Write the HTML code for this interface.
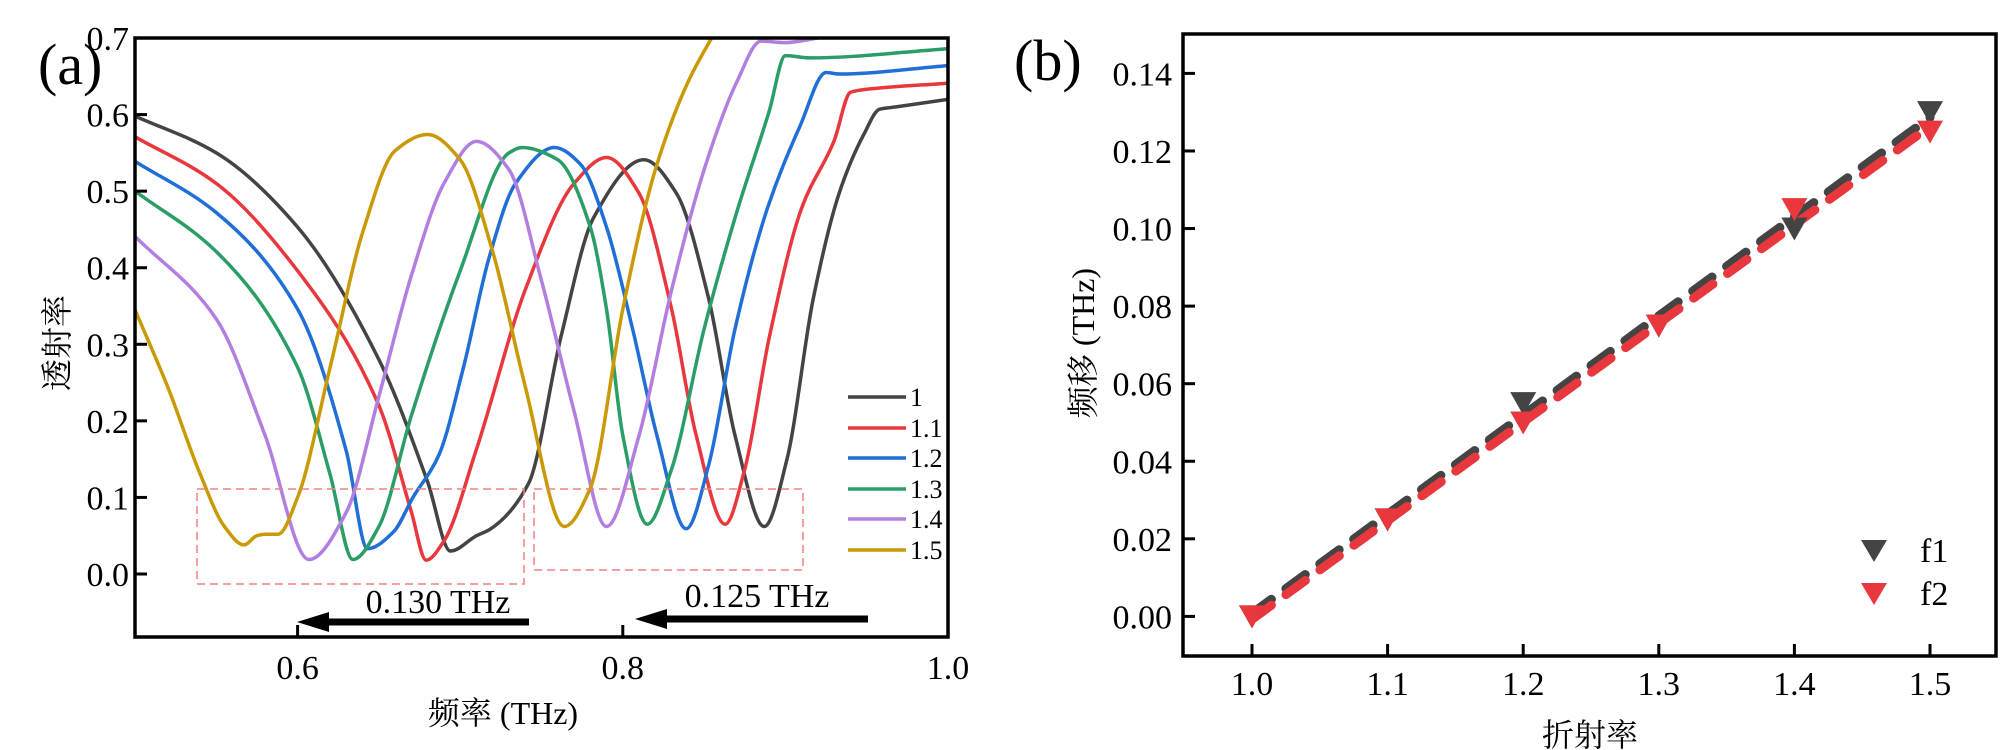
<!DOCTYPE html>
<html><head><meta charset="utf-8">
<style>
html,body{margin:0;padding:0;background:#fff;}
svg{display:block;font-family:"Liberation Serif","Noto Serif CJK SC","Noto Sans CJK SC",serif;}
</style></head>
<body>
<svg id="fig" width="2000" height="750" viewBox="0 0 2000 750" xmlns="http://www.w3.org/2000/svg">
<g id="pa"></g>
<g id="pb"></g>
</svg>
<script>
// ---- Panel (a) data ----
const seriesNames = ["1","1.1","1.2","1.3","1.4","1.5"];
const seriesColors = ["#444444","#e8383d","#1f6fd6","#2b9e67","#b27fe0","#c99a06"];
const freq1 = [0.5,0.55,0.6,0.65,0.68,0.694,0.71,0.718,0.742,0.762,0.782,0.813,0.833,0.853,0.869,0.887,0.901,0.917,0.933,0.948,0.958,0.968,1.0];
const trans1 = [0.598,0.55,0.453,0.28,0.12,0.03,0.05,0.058,0.118,0.31,0.465,0.541,0.497,0.358,0.181,0.062,0.15,0.358,0.497,0.573,0.607,0.61,0.62];
const freq2 = [0.5,0.55,0.6,0.65,0.67,0.679,0.69,0.71,0.74,0.77,0.79,0.81,0.83,0.845,0.863,0.875,0.89,0.91,0.93,0.94,0.95,1.0];
const trans2 = [0.571,0.51,0.396,0.22,0.081,0.018,0.043,0.163,0.371,0.51,0.544,0.497,0.346,0.182,0.065,0.137,0.308,0.478,0.566,0.629,0.633,0.641];
const freq3 = [0.5,0.55,0.6,0.63,0.643,0.659,0.671,0.687,0.702,0.718,0.734,0.758,0.774,0.79,0.806,0.821,0.839,0.853,0.869,0.889,0.909,0.925,0.933,1.0];
const trans3 = [0.539,0.472,0.346,0.16,0.033,0.055,0.1,0.156,0.27,0.415,0.51,0.557,0.535,0.453,0.32,0.181,0.059,0.144,0.32,0.478,0.585,0.655,0.653,0.664];
const freq4 = [0.5,0.55,0.6,0.62,0.634,0.65,0.67,0.7,0.73,0.738,0.76,0.78,0.79,0.8,0.815,0.83,0.85,0.87,0.89,0.9,0.915,1.0];
const trans4 = [0.5,0.421,0.27,0.13,0.019,0.062,0.207,0.396,0.55,0.557,0.541,0.453,0.346,0.181,0.065,0.137,0.32,0.472,0.604,0.677,0.674,0.686];
const freq5 = [0.5,0.55,0.58,0.607,0.63,0.65,0.67,0.69,0.71,0.73,0.75,0.77,0.79,0.81,0.83,0.85,0.87,0.885,0.9,0.92];
const trans5 = [0.441,0.333,0.181,0.019,0.081,0.232,0.39,0.51,0.565,0.528,0.383,0.213,0.062,0.181,0.371,0.528,0.642,0.696,0.694,0.7];
const freq6 = [0.5,0.52,0.54,0.555,0.567,0.575,0.58,0.588,0.6,0.62,0.64,0.66,0.68,0.7,0.72,0.74,0.764,0.78,0.8,0.82,0.84,0.86];
const trans6 = [0.345,0.245,0.131,0.062,0.038,0.05,0.052,0.052,0.1,0.27,0.446,0.553,0.574,0.541,0.421,0.245,0.062,0.112,0.346,0.528,0.642,0.72];
const xTicksA = [0.6,0.8,1.0];
const xTickLabelsA = ["0.6","0.8","1.0"];
const yTicksA = [0,0.1,0.2,0.3,0.4,0.5,0.6,0.7];
const yTickLabelsA = ["0.0","0.1","0.2","0.3","0.4","0.5","0.6","0.7"];

// ---- Panel (b) data ----
const indexN = [1.0,1.1,1.2,1.3,1.4,1.5];
const shiftF1 = [0,0.025,0.055,0.075,0.10,0.13];
const shiftF2 = [0,0.025,0.05,0.075,0.105,0.125];
const xTicksB = [1.0,1.1,1.2,1.3,1.4,1.5];
const xTickLabelsB = ["1.0","1.1","1.2","1.3","1.4","1.5"];
const yTicksB = [0,0.02,0.04,0.06,0.08,0.10,0.12,0.14];
const yTickLabelsB = ["0.00","0.02","0.04","0.06","0.08","0.10","0.12","0.14"];

const NS="http://www.w3.org/2000/svg";
function mk(parent,tag,attrs,text){const e=document.createElementNS(NS,tag);for(const k in attrs)e.setAttribute(k,attrs[k]);if(text!==undefined)e.textContent=text;parent.appendChild(e);return e;}

// ===== Panel A =====
const pa=document.getElementById('pa');
const A={x0:135,x1:948,y0:38,y1:637};
const ax=v=>A.x0+(v-0.5)/(0.5)*(A.x1-A.x0);
const ay=v=>574-(v)*(574-38)/0.7;
const defs=mk(document.getElementById('fig'),'defs',{});
const cp=mk(defs,'clipPath',{id:'clipA'});
mk(cp,'rect',{x:A.x0,y:A.y0,width:A.x1-A.x0,height:A.y1-A.y0});

// monotone cubic (Fritsch-Carlson) path
function smooth(pts){
  const n=pts.length;const dx=[],dy=[],m=[];
  for(let i=0;i<n-1;i++){dx.push(pts[i+1][0]-pts[i][0]);dy.push(pts[i+1][1]-pts[i][1]);m.push(dy[i]/dx[i]);}
  const t=[m[0]];
  for(let i=1;i<n-1;i++){
    if(m[i-1]*m[i]<=0)t.push(0);
    else{const w1=2*dx[i]+dx[i-1],w2=dx[i]+2*dx[i-1];t.push((w1+w2)/(w1/m[i-1]+w2/m[i]));}
  }
  t.push(m[n-2]);
  let d="M"+pts[0][0].toFixed(1)+","+pts[0][1].toFixed(1);
  for(let i=0;i<n-1;i++){
    const h=dx[i]/3;
    d+=" C"+(pts[i][0]+h).toFixed(1)+","+(pts[i][1]+t[i]*h).toFixed(1)+" "+(pts[i+1][0]-h).toFixed(1)+","+(pts[i+1][1]-t[i+1]*h).toFixed(1)+" "+pts[i+1][0].toFixed(1)+","+pts[i+1][1].toFixed(1);
  }
  return d;
}
const fs=[freq1,freq2,freq3,freq4,freq5,freq6];
const ts=[trans1,trans2,trans3,trans4,trans5,trans6];
const cg=mk(pa,'g',{'clip-path':'url(#clipA)'});


for(let s=0;s<6;s++){
  const pts=fs[s].map((f,i)=>[ax(f),ay(ts[s][i])]);
  const p=mk(cg,'path',{d:smooth(pts),fill:'none',stroke:seriesColors[s],'stroke-width':3.5,'stroke-linejoin':'round'});
  
  
}
const b1=mk(pa,'rect',{x:197,y:489,width:327,height:95,fill:'none',stroke:'#f08080','stroke-width':1.5,'stroke-dasharray':'8,5'});


const b2=mk(pa,'rect',{x:534,y:489,width:269,height:81,fill:'none',stroke:'#f08080','stroke-width':1.5,'stroke-dasharray':'8,5'});


function arrow(x1,x2,y,name){
  const g=mk(pa,'g',{});
  
  
  mk(g,'line',{x1:x1,y1:y,x2:x2+25,y2:y,stroke:'#000','stroke-width':7});
  mk(g,'polygon',{points:`${x2},${y} ${x2+32},${y-10} ${x2+32},${y+10}`,fill:'#000'});
}
arrow(529,297,622,'shift-arrow-left');
arrow(868,635,619,'shift-arrow-right');
const t1=mk(pa,'text',{x:438,y:613,'font-size':34,'text-anchor':'middle'},'0.130 THz');


const t2=mk(pa,'text',{x:757,y:607,'font-size':34,'text-anchor':'middle'},'0.125 THz');


const fa=mk(pa,'rect',{x:A.x0,y:A.y0,width:A.x1-A.x0,height:A.y1-A.y0,fill:'none',stroke:'#000','stroke-width':3.5});


xTicksA.forEach((v,i)=>{
  const l=mk(pa,'line',{x1:ax(v),y1:A.y1,x2:ax(v),y2:A.y1-12,stroke:'#000','stroke-width':3});
  
  
  const t=mk(pa,'text',{x:ax(v),y:679,'font-size':34,'text-anchor':'middle'},xTickLabelsA[i]);
  
  
});
yTicksA.forEach((v,i)=>{
  const l=mk(pa,'line',{x1:A.x0,y1:ay(v),x2:A.x0+12,y2:ay(v),stroke:'#000','stroke-width':3});
  
  
  const t=mk(pa,'text',{x:129,y:ay(v)+12,'font-size':34,'text-anchor':'end'},yTickLabelsA[i]);
  
  
});
const xa=mk(pa,'text',{x:503,y:724,'font-size':32,'text-anchor':'middle'},'频率 (THz)');


const ya=mk(pa,'text',{x:0,y:0,'font-size':32,'text-anchor':'middle',transform:'translate(68,343) rotate(-90)'},'透射率');


const la=mk(pa,'text',{x:38,y:84,'font-size':58},'(a)');


const lgY=[397,428,458,489,519,550];
for(let s=0;s<6;s++){
  const g=mk(pa,'g',{});
  
  
  mk(g,'line',{x1:848,y1:lgY[s],x2:906,y2:lgY[s],stroke:seriesColors[s],'stroke-width':3.5});
  mk(g,'text',{x:910,y:lgY[s]+9,'font-size':26},seriesNames[s]);
}

// ===== Panel B =====
const pb=document.getElementById('pb');
const B={x0:1183,x1:1996,y0:34,y1:656};
const bx=v=>1252+(v-1.0)/0.5*(1930-1252);
const by=v=>616.4-v/0.14*(616.4-73.4);
const fb=mk(pb,'rect',{x:B.x0,y:B.y0,width:B.x1-B.x0,height:B.y1-B.y0,fill:'none',stroke:'#000','stroke-width':3.5});


function fit(xs,ys){const n=xs.length;const mx=xs.reduce((a,b)=>a+b)/n,my=ys.reduce((a,b)=>a+b)/n;let sxy=0,sxx=0;for(let i=0;i<n;i++){sxy+=(xs[i]-mx)*(ys[i]-my);sxx+=(xs[i]-mx)**2;}const m=sxy/sxx;return [m,my-m*mx];}
function fitLine(ys,color,name,dy){
  const [m,c]=fit(indexN,ys);
  const xa0=indexN[0],xa1=indexN[indexN.length-1];
  const l=mk(pb,'line',{x1:bx(xa0),y1:by(m*xa0+c)+dy,x2:bx(xa1),y2:by(m*xa1+c)+dy,stroke:color,'stroke-width':9,'stroke-dasharray':'24,18','stroke-linecap':'round'});
  
  
}
fitLine(shiftF1,'#444444','fit-line-f1',-2);
fitLine(shiftF2,'#e8383d','fit-line-f2',2);
function tri(x,y,color,name){
  const p=mk(pb,'polygon',{points:`${x-13},${y-11} ${x+13},${y-11} ${x},${y+12}`,fill:color});
  
  
}
indexN.forEach((n,i)=>tri(bx(n),by(shiftF1[i]),'#444444','marker-f1'));
indexN.forEach((n,i)=>tri(bx(n),by(shiftF2[i]),'#e8383d','marker-f2'));
xTicksB.forEach((v,i)=>{
  const l=mk(pb,'line',{x1:bx(v),y1:B.y1,x2:bx(v),y2:B.y1-12,stroke:'#000','stroke-width':3});
  
  
  const t=mk(pb,'text',{x:bx(v),y:695,'font-size':34,'text-anchor':'middle'},xTickLabelsB[i]);
  
  
});
yTicksB.forEach((v,i)=>{
  const l=mk(pb,'line',{x1:B.x0,y1:by(v),x2:B.x0+12,y2:by(v),stroke:'#000','stroke-width':3});
  
  
  const t=mk(pb,'text',{x:1172,y:by(v)+12,'font-size':34,'text-anchor':'end'},yTickLabelsB[i]);
  
  
});
const xb=mk(pb,'text',{x:1590,y:746,'font-size':32,'text-anchor':'middle'},'折射率');


const yb=mk(pb,'text',{x:0,y:0,'font-size':32,'text-anchor':'middle',transform:'translate(1094,343) rotate(-90)'},'频移 (THz)');


const lb=mk(pb,'text',{x:1014,y:80,'font-size':58},'(b)');


const g1=mk(pb,'g',{});


mk(g1,'polygon',{points:'1861,540 1887,540 1874,562',fill:'#444444'});
mk(g1,'text',{x:1920,y:562,'font-size':34},'f1');
const g2=mk(pb,'g',{});


mk(g2,'polygon',{points:'1861,583 1887,583 1874,605',fill:'#e8383d'});
mk(g2,'text',{x:1920,y:605,'font-size':34},'f2');
</script>
</body></html>
